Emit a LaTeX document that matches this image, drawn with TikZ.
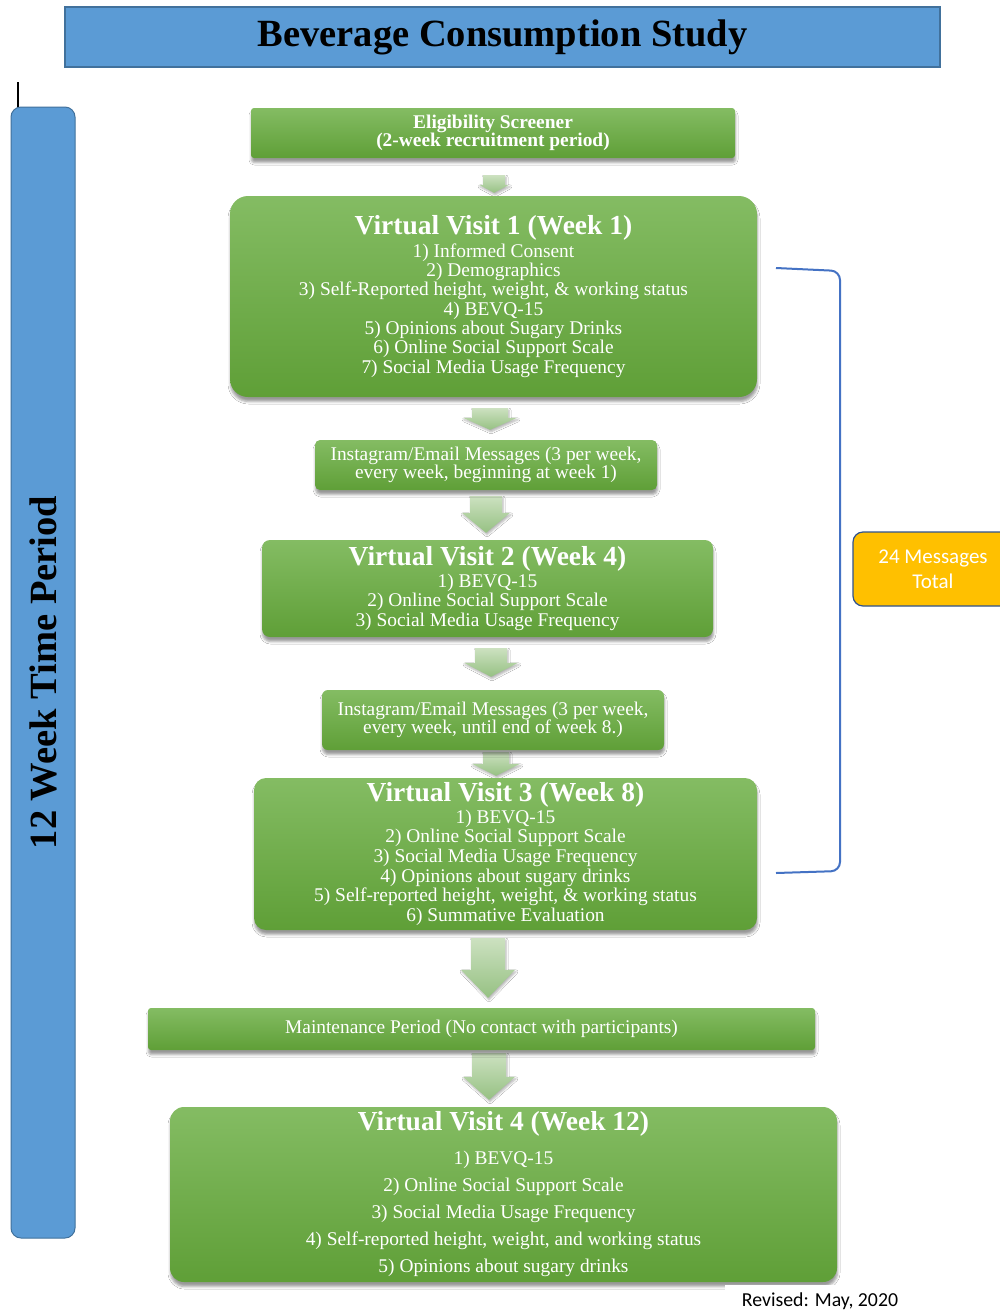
\documentclass[tikz,border=0pt]{standalone}
\usepackage{fontspec}
\setmainfont{Liberation Serif}
\newfontfamily\calibri{Carlito}
\usetikzlibrary{shadows.blur,calc}
\pgfdeclarelayer{background}
\pgfsetlayers{background,main}
\definecolor{barblue}{HTML}{5B9BD5}
\definecolor{barborder}{HTML}{41719C}
\definecolor{gtop}{HTML}{84BC63}
\definecolor{gbot}{HTML}{5F9F37}
\definecolor{atop}{HTML}{CCE1C0}
\definecolor{abot}{HTML}{96C183}
\definecolor{brblue}{HTML}{4472C4}
\definecolor{goldfill}{HTML}{FFC000}
\definecolor{goldborder}{HTML}{2F528F}
% #1 from, #2 to, #3 x centre, #4 top gap, #5 tip gap, #6 shaft half, #7 head half, #8 head length
\newcommand\flowarrow[8]{%
  \shade[arrowshade] let \p1=(#1.south), \p2=(#2.north) in
   ({(#3-#6)*1pt},{\y1-#4pt}) -- ({(#3+#6)*1pt},{\y1-#4pt})
   -- ({(#3+#6)*1pt},{\y2+#5pt+#8pt}) -- ({(#3+#7)*1pt},{\y2+#5pt+#8pt})
   -- ({#3*1pt},{\y2+#5pt})
   -- ({(#3-#7)*1pt},{\y2+#5pt+#8pt}) -- ({(#3-#6)*1pt},{\y2+#5pt+#8pt}) -- cycle;}
\newcommand\vvtitle{\fontsize{27.5}{27}\selectfont\bfseries}
\begin{document}
\begin{tikzpicture}[x=1pt,y=-1pt,
  greenbox/.style={top color=gtop, bottom color=gbot, text=white, align=center,
    inner sep=0pt, font=\fontsize{19.4}{19.3}\selectfont,
    blur shadow={shadow xshift=0.5pt, shadow yshift=-4.5pt, shadow blur radius=2.5pt, shadow opacity=40}},
  arrowshade/.style={top color=atop, bottom color=abot,
    blur shadow={shadow xshift=1pt, shadow yshift=-2pt, shadow blur radius=2pt, shadow opacity=30}},
  bluebar/.style={draw=barborder, fill=barblue, line width=1.2pt}
]
\useasboundingbox (0,0) rectangle (1000,1312);

% title
\node[bluebar, minimum width=875pt, minimum height=60pt, inner sep=0pt,
  font=\fontsize{38.5}{40}\selectfont\bfseries] (title) at (502.5,37) {Beverage Consumption Study};

% left time bar
\draw[line width=1.3pt] (18,82) -- (18,108);
\node[bluebar, line width=1pt, rounded corners=10pt, rotate=90, minimum width=1131pt, minimum height=64pt,
  inner sep=0pt, font=\fontsize{38.5}{40}\selectfont\bfseries] (tbar) at (43,672.5) {12 Week Time Period};

% flow boxes
\node[greenbox, rounded corners=3pt, minimum width=484pt, minimum height=50pt,
  font=\fontsize{19.4}{18}\selectfont\bfseries] (elig) at (493,133)
  {Eligibility Screener\\(2-week recruitment period)};

\node[greenbox, rounded corners=18pt, minimum width=527pt, minimum height=201pt] (vv1) at (493.5,296.5)
  {{\vvtitle Virtual Visit 1 (Week 1)}\\[2pt]
   1) Informed Consent\\
   2) Demographics\\
   3) Self-Reported height, weight, \& working status\\
   4) BEVQ-15\\
   5) Opinions about Sugary Drinks\\
   6) Online Social Support Scale\\
   7) Social Media Usage Frequency};

\node[greenbox, rounded corners=5pt, minimum width=342pt, minimum height=50pt,
  font=\fontsize{19.4}{18}\selectfont] (ig1) at (486,465)
  {Instagram/Email Messages (3 per week,\\every week, beginning at week 1)};

\node[greenbox, rounded corners=8pt, minimum width=451pt, minimum height=97pt,
  font=\fontsize{19.4}{19.5}\selectfont] (vv2) at (487.5,588.5)
  {{\vvtitle Virtual Visit 2 (Week 4)}\\[2pt]
   1) BEVQ-15\\
   2) Online Social Support Scale\\
   3) Social Media Usage Frequency};

\node[greenbox, rounded corners=6pt, minimum width=342pt, minimum height=60pt,
  font=\fontsize{19.4}{18}\selectfont] (ig2) at (493,720)
  {Instagram/Email Messages (3 per week,\\every week, until end of week 8.)};

\node[greenbox, rounded corners=12pt, minimum width=503pt, minimum height=152pt,
  font=\fontsize{19.4}{19.6}\selectfont] (vv3) at (505.5,854)
  {{\vvtitle Virtual Visit 3 (Week 8)}\\[2pt]
   1) BEVQ-15\\
   2) Online Social Support Scale\\
   3) Social Media Usage Frequency\\
   4) Opinions about sugary drinks\\
   5) Self-reported height, weight, \& working status\\
   6) Summative Evaluation};

\node[greenbox, rounded corners=3pt, minimum width=667pt, minimum height=42pt] (maint) at (481.5,1029)
  {Maintenance Period (No contact with participants)};

\node[greenbox, rounded corners=14pt, minimum width=667pt, minimum height=175pt,
  font=\fontsize{19.4}{27}\selectfont] (vv4) at (503.5,1194.5)
  {{\vvtitle Virtual Visit 4 (Week 12)}\\[7pt]
   1) BEVQ-15\\
   2) Online Social Support Scale\\
   3) Social Media Usage Frequency\\
   4) Self-reported height, weight, and working status\\
   5) Opinions about sugary drinks};

% block arrows behind the boxes
\begin{pgfonlayer}{background}
\fill[white] (0,0) rectangle (1000,1312);
\flowarrow{elig}{vv1}{494}{17}{3}{11}{15}{8}
\flowarrow{vv1}{ig1}{490}{11}{10}{18}{27}{12}
\flowarrow{ig1}{vv2}{486}{6}{7}{16}{24}{20}
\flowarrow{vv2}{ig2}{491}{11}{13}{16}{27}{14}
\flowarrow{ig2}{vv3}{496}{2}{2}{13}{24}{12}
\flowarrow{vv3}{maint}{488}{8}{10}{17}{27}{28}
\flowarrow{maint}{vv4}{489}{3}{7}{17}{26}{23}
\end{pgfonlayer}

% bracket for messages
\coordinate (brtop) at (776,268);
\coordinate (brbot) at (776,873);
\draw[brblue, line width=2pt, rounded corners=9pt] (brtop) -- (840,271) -- (840,871) -- (brbot);

\node[draw=goldborder, fill=goldfill, line width=1.2pt, rounded corners=10pt,
  minimum width=160pt, minimum height=74pt, inner sep=0pt, text=white, align=center,
  font=\calibri\fontsize{21}{25}\selectfont] (msgs) at (933,569) {24 Messages\\Total};

% revision note
\fill[white] (725,1285) rectangle (1000,1312);
\node[inner sep=0pt, font=\calibri\fontsize{19.8}{21}\selectfont] (rev) at (820,1301) {Revised: May, 2020};
\end{tikzpicture}
\end{document}
